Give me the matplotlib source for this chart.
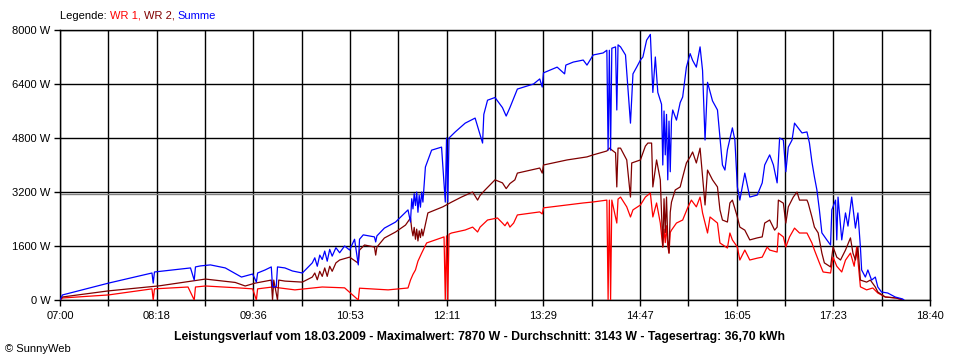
import matplotlib
matplotlib.use("Agg")
import matplotlib.pyplot as plt

# ---------------- data ----------------
x_tick_labels = ["07:00", "", "08:18", "", "09:36", "", "10:53", "", "12:11", "",
                 "13:29", "", "14:47", "", "16:05", "", "17:23", "", "18:40"]
y_ticks = [0, 1600, 3200, 4800, 6400, 8000]
average_w = 3143

# WR 1 (red)
wr1_times = ["07:00", "07:02", "07:39", "08:14", "08:15", "08:16", "08:43", "08:48", "08:49", "08:57",
             "09:23", "09:35", "09:38", "09:39", "09:51", "10:09", "10:17", "10:31", "10:49", "11:00",
             "11:01", "11:24", "11:40", "11:42", "11:44", "11:46", "11:48", "11:51", "11:53", "11:55",
             "12:02", "12:09", "12:10", "12:11", "12:12", "12:13", "12:15", "12:26", "12:32", "12:36",
             "12:38", "12:44", "12:52", "12:56", "12:58", "13:00", "13:02", "13:05", "13:08", "13:26",
             "13:28", "13:29", "13:48", "14:01", "14:09", "14:20", "14:21", "14:22", "14:23", "14:24",
             "14:28", "14:29", "14:31", "14:36", "14:39", "14:41", "14:47", "14:51", "14:55", "14:57",
             "15:00", "15:03", "15:05", "15:06", "15:07", "15:08", "15:09", "15:10", "15:11", "15:12",
             "15:16", "15:21", "15:25", "15:28", "15:32", "15:35", "15:37", "15:41", "15:43", "15:49",
             "15:51", "15:57", "15:59", "16:01", "16:05", "16:07", "16:11", "16:15", "16:21", "16:25",
             "16:29", "16:31", "16:37", "16:38", "16:42", "16:44", "16:47", "16:51", "16:55", "17:01",
             "17:05", "17:07", "17:11", "17:14", "17:20", "17:22", "17:25", "17:29", "17:32", "17:36",
             "17:39", "17:41", "17:44", "17:49", "17:54", "17:58", "18:04", "18:13", "18:18"]
wr1_watts = [0, 60, 150, 330, 0, 330, 385, 0, 385, 415,
             360, 330, 0, 330, 385, 300, 330, 385, 360, 0,
             350, 300, 356, 590, 760, 890, 1150, 1390, 1540, 1690,
             1780, 1870, 0, 1900, 0, 1950, 1985, 2074, 2160, 2015,
             2160, 2370, 2430, 2280, 2200, 2310, 2160, 2280, 2520, 2610,
             2550, 2730, 2815, 2875, 2905, 2960, 0, 2960, 0, 2960,
             2280, 2990, 3050, 2760, 2460, 2670, 2815, 3050, 3170, 2460,
             2875, 2280, 1570, 2100, 1700, 2200, 1600, 1390, 2000, 2070,
             2280, 2370, 2730, 2960, 2760, 3050, 2580, 1985, 2460, 2280,
             1690, 1540, 1985, 1780, 1570, 1185, 1480, 1185, 1240, 1270,
             1570, 1480, 1420, 1985, 1870, 1570, 1870, 2130, 1985, 1985,
             1690, 1480, 1100, 830, 800, 1270, 1000, 830, 1180, 1390,
             1000, 1570, 390, 300, 356, 207, 89, 59, 0]

# WR 2 (dark red)
wr2_times = ["07:00", "07:02", "07:39", "08:20", "08:57", "09:21", "09:29", "09:37", "09:50", "09:51",
             "09:52", "09:55", "09:56", "10:01", "10:15", "10:23", "10:25", "10:27", "10:29", "10:31",
             "10:33", "10:35", "10:37", "10:39", "10:42", "10:45", "10:53", "11:00", "11:01", "11:05",
             "11:13", "11:14", "11:15", "11:21", "11:30", "11:38", "11:42", "11:43", "11:44", "11:45",
             "11:46", "11:47", "11:48", "11:49", "11:50", "11:51", "11:52", "11:56", "12:02", "12:08",
             "12:15", "12:23", "12:32", "12:36", "12:38", "12:42", "12:50", "12:56", "12:59", "13:02",
             "13:06", "13:08", "13:26", "13:28", "13:29", "13:48", "14:04", "14:09", "14:20", "14:22",
             "14:27", "14:28", "14:29", "14:31", "14:36", "14:39", "14:40", "14:47", "14:51", "14:53",
             "14:56", "14:57", "15:00", "15:03", "15:05", "15:06", "15:07", "15:08", "15:09", "15:10",
             "15:11", "15:12", "15:15", "15:19", "15:21", "15:24", "15:27", "15:29", "15:32", "15:35",
             "15:37", "15:39", "15:41", "15:45", "15:49", "15:51", "15:53", "15:57", "15:59", "16:01",
             "16:05", "16:07", "16:11", "16:15", "16:21", "16:25", "16:27", "16:31", "16:35", "16:37",
             "16:38", "16:42", "16:44", "16:46", "16:50", "16:53", "16:55", "17:01", "17:02", "17:05",
             "17:07", "17:10", "17:13", "17:15", "17:20", "17:22", "17:25", "17:28", "17:32", "17:36",
             "17:38", "17:40", "17:42", "17:44", "17:49", "17:52", "17:56", "17:58", "18:04", "18:13",
             "18:18"]
wr2_watts = [0, 90, 270, 420, 620, 520, 415, 500, 590, 0,
             590, 0, 590, 560, 530, 680, 800, 600, 850, 700,
             950, 700, 1000, 850, 1100, 1185, 1270, 1090, 1480, 1630,
             1570, 1330, 1570, 1837, 2015, 2220, 2430, 2100, 1900, 2150,
             1800, 2100, 1750, 2050, 1850, 2100, 1900, 2580, 2670, 2760,
             2900, 3050, 3200, 2960, 3100, 3260, 3560, 3470, 3300, 3450,
             3560, 3760, 3910, 3760, 4000, 4150, 4240, 4300, 4415, 4500,
             4360, 3350, 4500, 4500, 4150, 3050, 4060, 4150, 4560, 4650,
             4650, 3350, 4150, 3560, 1570, 3000, 2000, 3050, 1800, 1390,
             2600, 2900, 3260, 3350, 3640, 4060, 4240, 4385, 4060, 4500,
             3640, 2815, 3850, 3560, 3350, 2670, 2370, 2310, 2875, 2960,
             2460, 2160, 2070, 1780, 1840, 1870, 2280, 2370, 2070, 2160,
             2960, 2870, 2280, 2760, 3050, 3200, 2960, 2960, 2870, 2460,
             2160, 1990, 1390, 1100, 980, 1570, 1270, 1185, 1480, 1840,
             1390, 1185, 1570, 590, 530, 590, 385, 237, 89, 59,
             0]

# Summe (blue)
sum_times = ["07:00", "07:02", "07:39", "08:14", "08:15", "08:16", "08:45", "08:48", "08:49", "08:53",
             "09:01", "09:13", "09:26", "09:35", "09:38", "09:39", "09:45", "09:50", "09:51", "09:54",
             "09:55", "10:01", "10:07", "10:15", "10:23", "10:25", "10:27", "10:29", "10:31", "10:33",
             "10:35", "10:37", "10:39", "10:42", "10:45", "10:49", "10:53", "10:57", "11:00", "11:01",
             "11:04", "11:13", "11:14", "11:15", "11:21", "11:30", "11:40", "11:42", "11:43", "11:44",
             "11:45", "11:46", "11:47", "11:48", "11:49", "11:50", "11:51", "11:52", "11:54", "11:59",
             "12:07", "12:10", "12:11", "12:12", "12:13", "12:18", "12:26", "12:34", "12:40", "12:41",
             "12:44", "12:50", "12:56", "12:59", "13:02", "13:08", "13:21", "13:26", "13:28", "13:29",
             "13:40", "13:46", "13:47", "13:53", "14:01", "14:04", "14:09", "14:17", "14:20", "14:21",
             "14:22", "14:23", "14:24", "14:27", "14:28", "14:29", "14:31", "14:35", "14:39", "14:41",
             "14:44", "14:47", "14:49", "14:52", "14:55", "14:57", "14:59", "15:01", "15:04", "15:05",
             "15:06", "15:07", "15:08", "15:09", "15:10", "15:11", "15:12", "15:13", "15:16", "15:19",
             "15:21", "15:24", "15:27", "15:29", "15:32", "15:35", "15:37", "15:39", "15:41", "15:45",
             "15:49", "15:51", "15:53", "15:55", "15:57", "16:01", "16:03", "16:05", "16:07", "16:11",
             "16:15", "16:21", "16:25", "16:27", "16:31", "16:34", "16:37", "16:39", "16:42", "16:44",
             "16:46", "16:49", "16:51", "16:57", "17:01", "17:03", "17:05", "17:07", "17:09", "17:11",
             "17:13", "17:17", "17:20", "17:21", "17:24", "17:25", "17:26", "17:29", "17:32", "17:34",
             "17:37", "17:40", "17:42", "17:44", "17:45", "17:48", "17:50", "17:53", "17:56", "17:58",
             "18:01", "18:06", "18:12", "18:18", "18:19"]
sum_watts = [0, 150, 500, 800, 500, 830, 950, 590, 980, 1010,
             1040, 950, 680, 770, 530, 800, 890, 980, 390, 390,
             980, 950, 860, 800, 1100, 1250, 1000, 1330, 1200, 1450,
             1150, 1500, 1300, 1550, 1400, 1600, 1480, 1800, 1040, 1800,
             1930, 1870, 1720, 1900, 2130, 2310, 2670, 2310, 3000, 2700,
             3150, 2800, 3200, 2600, 3100, 2750, 3200, 2900, 3940, 4440,
             4530, 2900, 4800, 2900, 4800, 4980, 5240, 5390, 4650, 5500,
             5920, 6000, 5700, 5450, 5700, 6250, 6400, 6550, 6310, 6730,
             6900, 6700, 6960, 7050, 7110, 6960, 7260, 7320, 7400, 4440,
             7400, 4440, 7460, 7500, 5630, 7560, 7500, 7260, 5240, 6700,
             6900, 7110, 7200, 7700, 7870, 6150, 7200, 6150, 5800, 4000,
             5600, 4300, 5500, 3560, 5300, 3800, 5330, 5630, 5330, 5850,
             6015, 6900, 7300, 7100, 6900, 7500, 6800, 4740, 6450, 5900,
             5630, 4830, 4000, 3850, 4450, 5100, 4740, 3350, 2960, 3760,
             3050, 3110, 3470, 4000, 4300, 4000, 3470, 4800, 4740, 3800,
             4530, 4740, 5240, 4950, 4980, 4650, 4090, 3650, 3260, 2670,
             1990, 1780, 1630, 2670, 2960, 1780, 3050, 1780, 2580, 2190,
             3050, 2130, 2580, 1570, 890, 680, 890, 590, 680, 385,
             237, 207, 89, 30, 0]


def to_min(s):
    h, m = s.split(":")
    return (int(h) - 7) * 60 + int(m)


# ---------------- figure ----------------
plt.rcParams["font.family"] = ["Liberation Sans", "DejaVu Sans"]
fig = plt.figure(figsize=(9.6, 3.6), dpi=100)
ax = fig.add_axes([60 / 960, 1 - 300 / 360, 870 / 960, 270 / 360])

span = 700.0
xt = [i * span / 18 for i in range(19)]
ax.set_xlim(0, span)
ax.set_ylim(0, 8000)
ax.set_xticks(xt)
ax.set_xticklabels(x_tick_labels)
ax.set_yticks(y_ticks)
ax.set_yticklabels([f"{v} W" for v in y_ticks])
ax.tick_params(axis="both", length=4, width=1, color="black", labelsize=8)
ax.tick_params(axis="x", pad=4)
ax.tick_params(axis="y", pad=3)
ax.grid(True, color="black", linewidth=1.0)
ax.set_axisbelow(True)
for sp in ax.spines.values():
    sp.set_linewidth(1.0)
    sp.set_color("black")

ax.axhline(average_w, color="#808080", linewidth=1.0, zorder=1.5)

lw = 0.9
ax.plot([to_min(t) for t in wr1_times], wr1_watts, color="#ff0000", lw=lw, zorder=3)
ax.plot([to_min(t) for t in wr2_times], wr2_watts, color="#800000", lw=lw, zorder=3)
ax.plot([to_min(t) for t in sum_times], sum_watts, color="#0000ff", lw=lw, zorder=3)

# legend line
t0 = fig.text(60 / 960, 1 - 16 / 360, "Legende: ", color="black", fontsize=8, va="center")
t1 = ax.annotate("WR 1, ", xy=(1, 0), xycoords=t0, va="bottom", color="#ff0000", fontsize=8,
                 annotation_clip=False)
t2 = ax.annotate("WR 2, ", xy=(1, 0), xycoords=t1, va="bottom", color="#800000", fontsize=8,
                 annotation_clip=False)
t3 = ax.annotate("Summe", xy=(1, 0), xycoords=t2, va="bottom", color="#0000ff", fontsize=8,
                 annotation_clip=False)

fig.text(480 / 960, 1 - 337 / 360,
         "Leistungsverlauf vom 18.03.2009 - Maximalwert: 7870 W - Durchschnitt: 3143 W - Tagesertrag: 36,70 kWh",
         ha="center", va="center", fontsize=8.8, fontweight="bold")
fig.text(5 / 960, 1 - 349 / 360, "\u00a9 SunnyWeb", ha="left", va="center", fontsize=8)

fig.savefig("out.png", dpi=100)
